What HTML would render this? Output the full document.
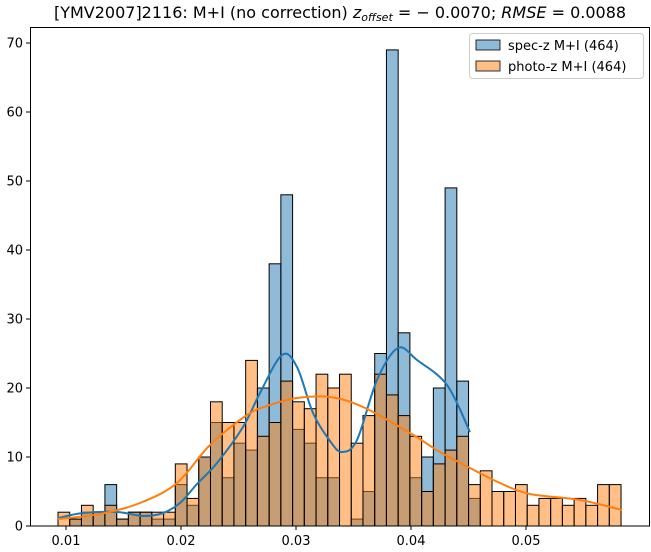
<!DOCTYPE html>
<html><head><meta charset="utf-8"><style>
body{margin:0;background:#fff;}
svg{display:block;font-family:"DejaVu Sans","Liberation Sans",sans-serif;}
</style></head><body>
<svg id="s" width="651" height="552" xmlns="http://www.w3.org/2000/svg">
<rect width="651" height="552" fill="#fff"/>
<g id="bars"></g>
<path id="cb" d="" fill="none" stroke="#1f77b4" stroke-width="2"/>
<path id="co" d="" fill="none" stroke="#ff7f0e" stroke-width="2"/>
<rect x="30.5" y="27.5" width="619" height="498.5" fill="none" stroke="#000" stroke-width="1"/>
<g id="ticks" font-size="13" fill="#000"></g>
<text x="340" y="18" font-size="16" text-anchor="middle">[YMV2007]2116: M+I (no correction) <tspan font-style="italic">z</tspan><tspan font-style="italic" font-size="11" dy="3">offset</tspan><tspan dy="-3"> = − 0.0070; </tspan><tspan font-style="italic">RMSE</tspan> = 0.0088</text>
<rect x="469.5" y="33.5" width="174" height="45" rx="3" fill="#fff" fill-opacity="0.8" stroke="#ccc"/>
<rect x="476" y="40" width="24" height="10" fill="#1f77b4" fill-opacity="0.5" stroke="#000" stroke-width="0.8"/>
<text x="508" y="50" font-size="13">spec-z M+I (464)</text>
<rect x="476" y="61" width="24" height="10" fill="#ff7f0e" fill-opacity="0.5" stroke="#000" stroke-width="0.8"/>
<text x="508" y="71" font-size="13">photo-z M+I (464)</text>
</svg>
<script>
var o=[2,1,3,2,3,1,2,2,2,2,9,4,10,18,15,15,24,13,15,21,18,17,22,20,22,12,16,22,19,16,13,5,9,11,13,6,8,5,5,6,3,4,4,3,4,3,6,6];
var b=[0,1,2,2,6,1,2,2,1,1,6,3,10,15,7,12,11,20,38,48,14,12,7,7,0,1,5,25,69,28,7,10,20,49,21,4];
var w=11.73,x0=58,y0=526,k=6.9,h='';
function draw(a,c){for(var i=0;i<a.length;i++){if(!a[i])continue;var x=x0+i*w;h+='<rect x="'+x.toFixed(2)+'" y="'+(y0-a[i]*k).toFixed(2)+'" width="'+w.toFixed(2)+'" height="'+(a[i]*k).toFixed(2)+'" fill="'+c+'" fill-opacity="0.5" stroke="#000" stroke-width="1"/>';}}
draw(b,'#1f77b4');draw(o,'#ff7f0e');
document.getElementById('bars').innerHTML=h;
function cr(p){var d='M'+p[0][0]+','+p[0][1];for(var i=0;i<p.length-1;i++){var a=p[i-1]||p[i],b1=p[i],c=p[i+1],e=p[i+2]||c;
d+=' C'+(b1[0]+(c[0]-a[0])/6).toFixed(1)+','+(b1[1]+(c[1]-a[1])/6).toFixed(1)+' '+(c[0]-(e[0]-b1[0])/6).toFixed(1)+','+(c[1]-(e[1]-b1[1])/6).toFixed(1)+' '+c[0]+','+c[1];}return d;}
document.getElementById('cb').setAttribute('d',cr([[58,518],[83,513],[117,512],[143,516],[163,513],[180,503],[197,484],[217,463],[243,427],[260,393],[282,355],[297,367],[313,413],[330,441],[342,452],[357,440],[377,380],[398,348],[417,360],[447,385],[470,432]]));
document.getElementById('co').setAttribute('d',cr([[58,519],[100,514],[140,503],[177,483],[210,445],[247,415],[270,405],[297,398],[330,397],[363,407],[410,433],[440,452],[470,468],[500,483],[530,494],[580,500],[622,510]]));
var t='';
for(var i=0;i<=7;i++){var y=526-69*i;t+='<line x1="26" x2="30" y1="'+y+'" y2="'+y+'" stroke="#000"/><text x="23" y="'+(y+4.5)+'" text-anchor="end">'+(i*10)+'</text>';}
var xs=['0.01','0.02','0.03','0.04','0.05'];
for(var j=0;j<5;j++){var x=66+115*j;t+='<line x1="'+x+'" x2="'+x+'" y1="526" y2="530" stroke="#000"/><text x="'+x+'" y="545" text-anchor="middle">'+xs[j]+'</text>';}
document.getElementById('ticks').innerHTML=t;
</script>
</body></html>
